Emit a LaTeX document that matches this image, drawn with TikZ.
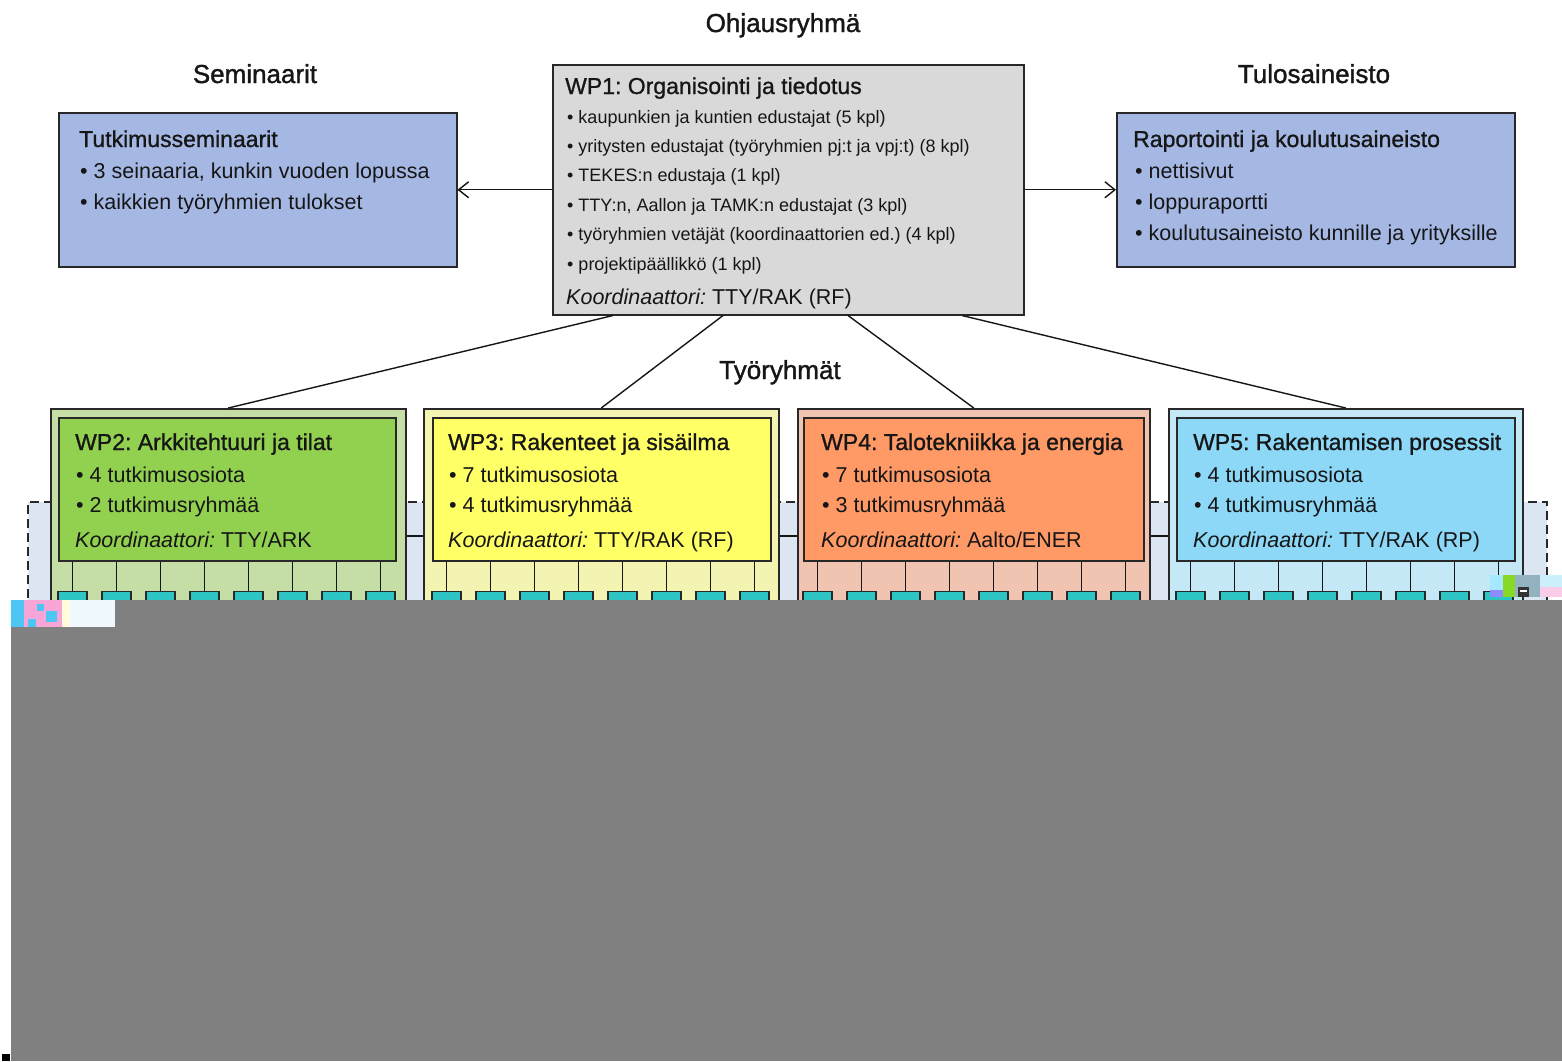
\documentclass[tikz,border=0pt]{standalone}
\usepackage{fontspec}
\setmainfont{Liberation Sans}
\newfontfamily\heavy{Liberation Sans}[FakeBold=1.3]
\newfontfamily\semiheavy{Liberation Sans}[FakeBold=1.0]
\usetikzlibrary{arrows.meta,calc}
\definecolor{ink}{RGB}{22,22,22}
\definecolor{edge}{RGB}{40,40,40}
\definecolor{semblue}{RGB}{165,184,228}
\definecolor{wpgray}{RGB}{217,217,217}
\definecolor{gA}{RGB}{146,208,80}
\definecolor{gB}{RGB}{196,222,166}
\definecolor{yA}{RGB}{255,255,102}
\definecolor{yB}{RGB}{244,244,178}
\definecolor{oA}{RGB}{255,153,102}
\definecolor{oB}{RGB}{240,196,176}
\definecolor{cA}{RGB}{140,216,246}
\definecolor{cB}{RGB}{196,232,246}
\definecolor{dfill}{RGB}{220,230,242}
\definecolor{leafteal}{RGB}{46,196,196}
\definecolor{mask}{RGB}{128,128,128}
\frenchspacing
\begin{document}
\frenchspacing
\begin{tikzpicture}[x=1pt,y=-1pt,
  box/.style={draw=edge, line width=1.5pt, inner sep=0pt, anchor=north west},
  conn/.style={draw=ink, line width=1.4pt},
  arr/.style={conn, -{Straight Barb[length=10pt,width=16pt]}},
  head/.style={anchor=base, inner sep=0pt, text=ink, font=\heavy\fontsize{26}{30}\selectfont},
  ttl/.style={anchor=base west, inner sep=0pt, text=ink, font=\semiheavy\fontsize{23}{27}\selectfont},
  itm/.style={anchor=base west, inner sep=0pt, text=ink, font=\fontsize{21.5}{25}\selectfont},
  sml/.style={anchor=base west, inner sep=0pt, text=ink, font=\fontsize{18}{22}\selectfont},
  leaf/.style={draw=edge, line width=1.2pt, fill=leafteal, inner sep=0pt, minimum width=29pt, minimum height=26pt, anchor=north},
]
\useasboundingbox (0,0) rectangle (1562,1061);
\fill[white] (0,0) rectangle (1562,1061);

% headings
\node[head] (hOhj) at (783,32) {Ohjausryhmä};
\node[head] (hSem) at (255,83) {Seminaarit};
\node[head] (hTul) at (1314,83) {Tulosaineisto};
\node[head] (hTyo) at (780,379) {Työryhmät};

% top boxes
\node[box, fill=wpgray, minimum width=471pt, minimum height=250pt] (wp1) at (552,64) {};
\node[box, fill=semblue, minimum width=398pt, minimum height=154pt] (sem) at (58,112) {};
\node[box, fill=semblue, minimum width=398pt, minimum height=154pt] (res) at (1116,112) {};

\node[ttl] (wp1t) at (565,94) {WP1: Organisointi ja tiedotus};
\node[sml] (wp1a) at (567,123) {• kaupunkien ja kuntien edustajat (5 kpl)};
\node[sml] (wp1b) at (567,152.4) {• yritysten edustajat (työryhmien pj:t ja vpj:t) (8 kpl)};
\node[sml] (wp1c) at (567,181.8) {• TEKES:n edustaja (1 kpl)};
\node[sml] (wp1d) at (567,211.2) {• TTY:n, Aallon ja TAMK:n edustajat (3 kpl)};
\node[sml] (wp1e) at (567,240.6) {• työryhmien vetäjät (koordinaattorien ed.) (4 kpl)};
\node[sml] (wp1f) at (567,270) {• projektipäällikkö (1 kpl)};
\node[itm] (wp1k) at (566,304) {\itshape Koordinaattori:\upshape{} TTY/RAK (RF)};

\node[ttl] (semt) at (79,147) {Tutkimusseminaarit};
\node[itm] (sema) at (80,178) {• 3 seinaaria, kunkin vuoden lopussa};
\node[itm] (semb) at (80,209) {• kaikkien työryhmien tulokset};

\node[ttl] (rest) at (1133,147) {Raportointi ja koulutusaineisto};
\node[itm] (resa) at (1135,178) {• nettisivut};
\node[itm] (resb) at (1135,209) {• loppuraportti};
\node[itm] (resc) at (1135,240) {• koulutusaineisto kunnille ja yrityksille};

\draw[arr] (wp1.west) -- (sem.east);
\draw[arr] (wp1.east) -- (res.west);

% dashed region
\fill[dfill] (28,502) rectangle (1547,640);
\draw[edge, line width=1.3pt, dash pattern=on 9pt off 5pt] (28,640) -- (28,502) -- (1547,502) -- (1547,640);

% work packages
\foreach \n/\xa/\wa/\xb/\wb/\ca/\cb in {2/50/355/58/337/gB/gA, 3/423/355/432/338/yB/yA, 4/797/352/803/340/oB/oA, 5/1168/354/1176/338/cB/cA} {
  \node[box, fill=\ca, minimum width=\wa*1pt, minimum height=230pt] (o\n) at (\xa,408) {};
  \node[box, fill=\cb, minimum width=\wb*1pt, minimum height=143pt] (w\n) at (\xb,417) {};
  \foreach \k in {0,...,7} {
    \node[leaf] (t\n\k) at (\xb+14.5+44*\k,591) {};
    \draw[conn] (t\n\k.north) -- (t\n\k.north |- w\n.south);
  }
}

\coordinate (hy) at (0,536);
\draw[conn] (o2.east |- hy) -- (o3.west |- hy);
\draw[conn] (o3.east |- hy) -- (o4.west |- hy);
\draw[conn] (o4.east |- hy) -- (o5.west |- hy);

\draw[conn] ([xshift=61pt]wp1.south west) -- (o2.north);
\draw[conn] ([xshift=171pt]wp1.south west) -- (o3.north);
\draw[conn] ([xshift=296pt]wp1.south west) -- (o4.north);
\draw[conn] ([xshift=410pt]wp1.south west) -- (o5.north);

% WP texts
\node[ttl] (w2t) at (75,450) {WP2: Arkkitehtuuri ja tilat};
\node[itm] (w2a) at (76,482) {• 4 tutkimusosiota};
\node[itm] (w2b) at (76,512) {• 2 tutkimusryhmää};
\node[itm] (w2k) at (75,547) {\itshape Koordinaattori:\upshape{} TTY/ARK};

\node[ttl] (w3t) at (448,450) {WP3: Rakenteet ja sisäilma};
\node[itm] (w3a) at (449,482) {• 7 tutkimusosiota};
\node[itm] (w3b) at (449,512) {• 4 tutkimusryhmää};
\node[itm] (w3k) at (448,547) {\itshape Koordinaattori:\upshape{} TTY/RAK (RF)};

\node[ttl] (w4t) at (821,450) {WP4: Talotekniikka ja energia};
\node[itm] (w4a) at (822,482) {• 7 tutkimusosiota};
\node[itm] (w4b) at (822,512) {• 3 tutkimusryhmää};
\node[itm] (w4k) at (821,547) {\itshape Koordinaattori:\upshape{} Aalto/ENER};

\node[ttl] (w5t) at (1193,450) {WP5: Rakentamisen prosessit};
\node[itm] (w5a) at (1194,482) {• 4 tutkimusosiota};
\node[itm] (w5b) at (1194,512) {• 4 tutkimusryhmää};
\node[itm] (w5k) at (1193,547) {\itshape Koordinaattori:\upshape{} TTY/RAK (RP)};

% gray cover
\fill[mask] (11,600) rectangle (1562,1061);
% left glitch
\fill[cyan!70!white] (11,600) rectangle (24,627);
\fill[magenta!35!white] (24,600) rectangle (62,627);
\fill[cyan!70!white] (37,604) rectangle (44,611);
\fill[cyan!70!white] (46,611) rectangle (57,622);
\fill[cyan!70!white] (28,619) rectangle (36,627);
\fill[yellow!15!white] (62,600) rectangle (70,627);
\fill[cyan!6!white] (70,600) rectangle (115,627);
% right glitch
\fill[blue!25!cyan!35!white] (1490,575) rectangle (1503,590);
\fill[blue!45!white] (1490,590) rectangle (1503,597);
\fill[green!45!yellow!70!gray] (1503,575) rectangle (1515,597);
\fill[cyan!30!gray!80] (1515,575) rectangle (1540,597);
\fill[black!80] (1518,587) rectangle (1529,597);
\fill[white] (1520,590) rectangle (1527,592);
\fill[cyan!20!white] (1540,575) rectangle (1562,587);
\fill[magenta!20!white] (1540,587) rectangle (1562,597);
% bottom-left mark
\fill[black] (2,1054) rectangle (10,1061);
\end{tikzpicture}
\end{document}
